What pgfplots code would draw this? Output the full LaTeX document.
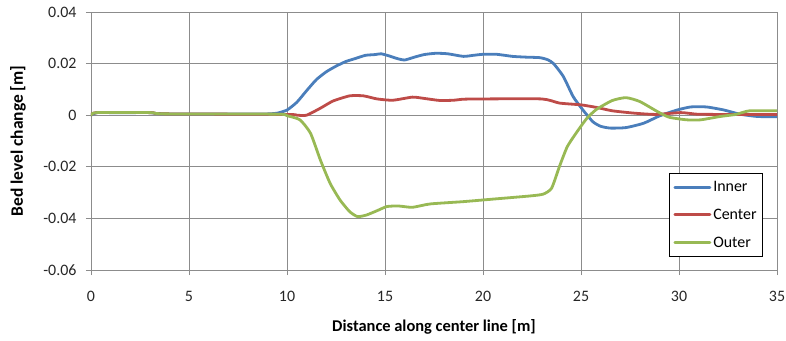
\documentclass[border=0pt]{standalone}
\usepackage{pgfplots}
\pgfplotsset{compat=1.18}
\usepackage{fontspec}
\setmainfont{Carlito}
\definecolor{cinner}{HTML}{4A7EBB}
\definecolor{ccenter}{HTML}{BE4B48}
\definecolor{couter}{HTML}{98B954}
\definecolor{gridc}{HTML}{8C8C8C}
\begin{document}
\begin{tikzpicture}
\useasboundingbox (-91bp,-71bp) rectangle (695bp,270bp);
\begin{axis}[
  scale only axis,
  width=686bp, height=258bp,
  xmin=0, xmax=35, ymin=-0.06, ymax=0.04,
  xtick={0,5,...,35},
  ytick={-0.06,-0.04,-0.02,0,0.02,0.04},
  yticklabels={-0.06,-0.04,-0.02,0,0.02,0.04},
  scaled ticks=false,
  grid=major,
  major grid style={gridc, line width=0.8bp},
  axis line style={gridc, line width=0.8bp},
  tick style={gridc, line width=0.8bp},
  tick align=outside,
  major tick length=5bp,
  xtick pos=bottom, ytick pos=left,
  font=\fontsize{16}{19}\selectfont,
  tick label style={font=\fontsize{16}{19}\selectfont, text=black!85},
  /pgf/number format/assume math mode=true,
  xticklabel style={yshift=-13bp},
  yticklabel style={xshift=-6bp},
  xlabel={\textbf{Distance along center line [m]}},
  ylabel={\textbf{Bed level change [m]}},
  xlabel style={at={(axis description cs:0.5,-57/258)}, anchor=center, font=\fontsize{16.5}{19}\selectfont},
  ylabel style={at={(axis description cs:-73/686,0.5)}, anchor=center, font=\fontsize{17.5}{20}\selectfont},
  legend style={at={(1-14/686,13/258)}, anchor=south east, draw=black, line width=0.8bp, fill=white,
     font=\fontsize{16}{19}\selectfont, row sep=12bp, inner xsep=4bp, inner ysep=6bp},
  legend cell align=left,
  legend image code/.code={\draw[#1, line width=2.8bp] (0bp,0bp) -- (35bp,0bp);},
  every axis plot/.append style={line width=2.8bp, line join=round, line cap=round, smooth, tension=0.35},
]
\addplot[cinner] coordinates {
(0,0) (0.3,0.001) (1,0.001) (2,0.001) (3,0.001) (3.3,0.0007) (4,0.0005) (6,0.0005) (8,0.0005) (9,0.0005)
(9.5,0.0008) (10,0.002) (10.5,0.005) (11,0.0095) (11.5,0.0138) (12,0.0168) (12.5,0.019) (13,0.0208)
(13.5,0.022) (14,0.0232) (14.5,0.0235) (14.8,0.0238) (15.2,0.023) (15.6,0.022) (16,0.0214) (16.5,0.0225)
(17,0.0235) (17.6,0.024) (18.2,0.0238) (19,0.0228) (19.5,0.0232) (20,0.0236) (20.7,0.0236) (21.5,0.0228)
(22.2,0.0225) (22.9,0.0223) (23.3,0.0215) (23.6,0.0200) (24.1,0.015) (24.6,0.0072) (25.1,0.002)
(25.6,-0.0025) (26.0,-0.0043) (26.5,-0.005) (27.3,-0.0048) (28.2,-0.0031) (29.0,-0.0003) (29.9,0.002)
(30.6,0.0032) (31.4,0.0032) (32.3,0.002) (33.1,0.0004) (34.0,-0.0005) (35,-0.0006)
};
\addlegendentry{Inner}
\addplot[ccenter] coordinates {
(0,0) (0.3,0.001) (3,0.001) (3.3,0.0007) (4,0.0005) (10,0.0003) (10.5,0) (11,0) (11.7,0.0027)
(12.35,0.0055) (13.2,0.0075) (13.9,0.0075) (14.6,0.0063) (15.4,0.0058) (16.4,0.007) (17,0.0065)
(17.8,0.0057) (18.5,0.0058) (19,0.0062) (20,0.0063) (23,0.0063) (23.9,0.0047) (25,0.004) (25.8,0.003)
(26.6,0.0017) (27.7,0.0008) (28.8,0.0003) (30.1,0.001) (30.9,0.0004) (32,0.0003) (35,0.0003)
};
\addlegendentry{Center}
\addplot[couter] coordinates {
(0,0) (0.3,0.001) (3,0.001) (3.3,0.0007) (4,0.0005) (9.5,0.0004) (10,-0.0002) (10.66,-0.0018)
(11.2,-0.007) (11.7,-0.0173) (12.2,-0.0264) (12.7,-0.0328) (13.2,-0.0374) (13.6,-0.0393) (14.05,-0.0387)
(14.6,-0.037) (15.1,-0.0354) (15.7,-0.0352) (16.4,-0.0357) (17.3,-0.0344) (19.0,-0.0335) (20.7,-0.0324)
(22.4,-0.0313) (23.07,-0.0306) (23.5,-0.0283) (23.9,-0.0199) (24.3,-0.0122) (24.8,-0.0064) (25.3,-0.0012)
(25.8,0.0023) (26.6,0.0057) (27.3,0.0068) (28.0,0.0053) (28.9,0.0014) (29.5,-0.0008) (30.4,-0.0018)
(31.1,-0.0018) (32.1,-0.0005) (32.9,0.0003) (33.6,0.0017) (35,0.0017)
};
\addlegendentry{Outer}
\end{axis}
\end{tikzpicture}
\end{document}
